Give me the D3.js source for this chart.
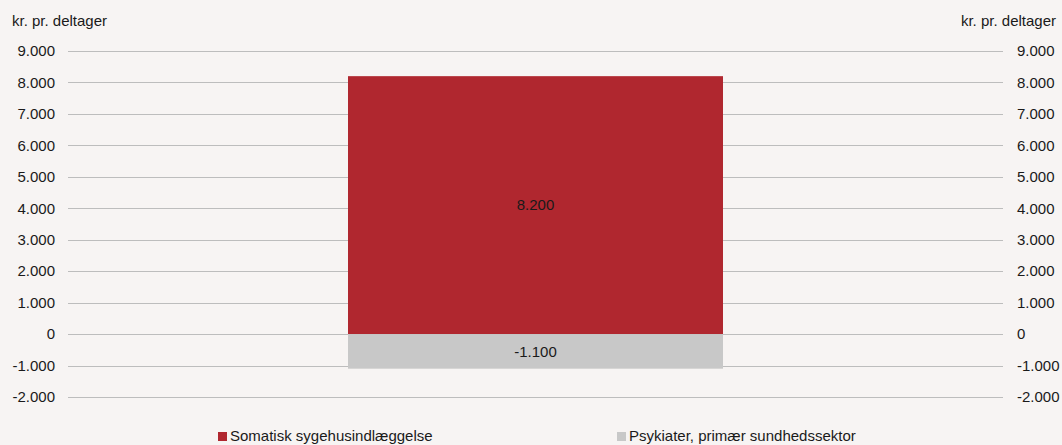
<!DOCTYPE html>
<html>
<head>
<meta charset="utf-8">
<script src="https://cdn.jsdelivr.net/npm/d3@7"></script>
<style>
  body { margin: 0; background: #f7f4f3; }
  svg { display: block; font-family: "Liberation Sans", Arial, sans-serif; }
</style>
</head>
<body>
<div id="chart-area"></div>
<script>
var categories = ["Deltager"];
var seriesNames = ["Somatisk sygehusindlæggelse", "Psykiater, primær sundhedssektor"];
var seriesColors = ["#b0272f", "#c8c8c8"];
var somatisk = [8200];
var psykiater = [-1100];
var tickValues = [-2000, -1000, 0, 1000, 2000, 3000, 4000, 5000, 6000, 7000, 8000, 9000];
var axisTitle = "kr. pr. deltager";

var width = 1062, height = 445;
var margin = { top: 51, right: 59, bottom: 48, left: 68 };
var fontSize = 15;

var svg = d3.select("#chart-area").append("svg")
    .attr("width", width)
    .attr("height", height);

svg.append("rect")
    .attr("width", width)
    .attr("height", height)
    .attr("fill", "#f7f4f3");

var yScale = d3.scaleLinear()
    .domain([-2000, 9000])
    .range([height - margin.bottom, margin.top]);

var xScale = d3.scaleBand()
    .domain(categories)
    .range([margin.left, width - margin.right])
    .paddingInner(0)
    .paddingOuter(0.7467);

var fmt = function (v) {
    var s = d3.format(",")(v).replace(/,/g, ".");
    return s.replace("−", "-");
};

// gridlines
svg.append("g")
    .selectAll("line")
    .data(tickValues)
    .join("line")
    .attr("x1", margin.left)
    .attr("x2", width - margin.right)
    .attr("y1", function (d) { return Math.round(yScale(d)) + 0.5; })
    .attr("y2", function (d) { return Math.round(yScale(d)) + 0.5; })
    .attr("stroke", "#bdbdbd")
    .attr("stroke-width", 1);

// left axis
var leftAxis = svg.append("g")
    .attr("transform", "translate(" + (margin.left - 13) + ",0)")
    .call(d3.axisLeft(yScale).tickValues(tickValues).tickSize(0).tickPadding(0).tickFormat(fmt));
leftAxis.select(".domain").remove();
leftAxis.selectAll("text")
    .attr("font-size", fontSize)
    .attr("fill", "#1a1a1a")
    .attr("font-family", "Liberation Sans, Arial, sans-serif");

// right axis
var rightAxis = svg.append("g")
    .attr("transform", "translate(" + (width - margin.right + 14) + ",0)")
    .call(d3.axisRight(yScale).tickValues(tickValues).tickSize(0).tickPadding(0).tickFormat(fmt));
rightAxis.select(".domain").remove();
rightAxis.selectAll("text")
    .attr("font-size", fontSize)
    .attr("fill", "#1a1a1a")
    .attr("font-family", "Liberation Sans, Arial, sans-serif");

// axis titles
svg.append("text")
    .attr("x", 12)
    .attr("y", 26)
    .attr("font-size", fontSize)
    .attr("fill", "#1a1a1a")
    .text(axisTitle);

svg.append("text")
    .attr("x", 1056)
    .attr("y", 26)
    .attr("text-anchor", "end")
    .attr("font-size", fontSize)
    .attr("fill", "#1a1a1a")
    .text(axisTitle);

// bars
var series = [somatisk, psykiater];
series.forEach(function (values, si) {
    svg.append("g")
        .selectAll("rect")
        .data(values)
        .join("rect")
        .attr("x", function (d, i) { return xScale(categories[i]); })
        .attr("width", xScale.bandwidth())
        .attr("y", function (d) { return yScale(Math.max(0, d)); })
        .attr("height", function (d) { return Math.abs(yScale(d) - yScale(0)); })
        .attr("fill", seriesColors[si]);

    svg.append("g")
        .selectAll("text")
        .data(values)
        .join("text")
        .attr("x", function (d, i) { return xScale(categories[i]) + xScale.bandwidth() / 2; })
        .attr("y", function (d) { return (yScale(d) + yScale(0)) / 2; })
        .attr("dy", "0.35em")
        .attr("text-anchor", "middle")
        .attr("font-size", fontSize)
        .attr("fill", "#1a1a1a")
        .text(function (d) { return fmt(d); });
});

// legend
var legendX = [218, 617];
var legend = svg.append("g");
seriesNames.forEach(function (name, i) {
    legend.append("rect")
        .attr("x", legendX[i])
        .attr("y", 432)
        .attr("width", 9)
        .attr("height", 9)
        .attr("fill", seriesColors[i]);
    legend.append("text")
        .attr("x", legendX[i] + 12)
        .attr("y", 441)
        .attr("font-size", fontSize)
        .attr("fill", "#1a1a1a")
        .text(name);
});
</script>
</body>
</html>
